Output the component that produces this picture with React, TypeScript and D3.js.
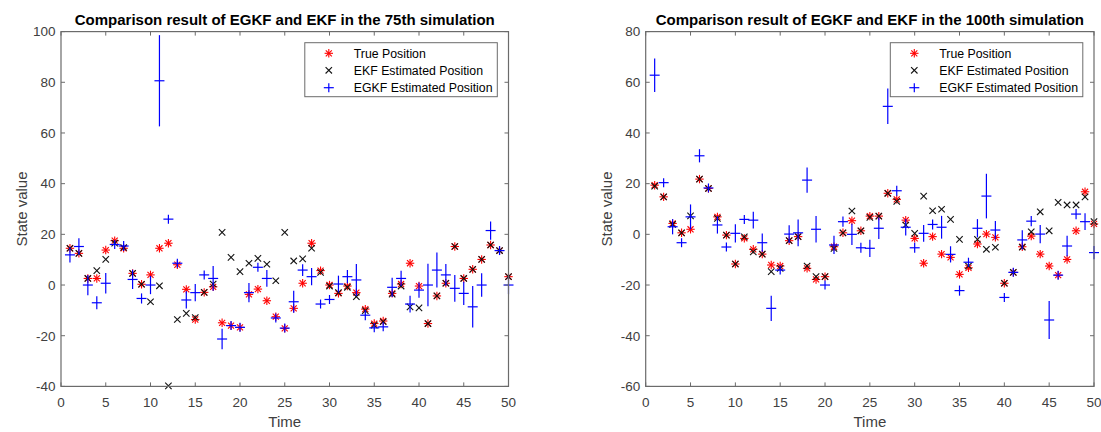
import React from "react";
import * as d3 from "d3";

const timeSteps = d3.range(1, 51);
const xTicks = [0, 5, 10, 15, 20, 25, 30, 35, 40, 45, 50];
const yTicks75 = [-40, -20, 0, 20, 40, 60, 80, 100];
const yTicks100 = [-60, -40, -20, 0, 20, 40, 60, 80];
const legendLabels = ["True Position", "EKF Estimated Position", "EGKF Estimated Position"];
const titles = [
  "Comparison result of EGKF and EKF in the 75th simulation",
  "Comparison result of EGKF and EKF in the 100th simulation",
];

// 75th simulation
const true75 = [14.5, 12.5, 2.6, 2.6, 13.8, 17.5, 14.5, 4.6, 0.3, 4, 14.5, 16.5, 8, -1.7, -13.6, -2.9, -0.7, -14.9, -16, -16.7, -3.7, -1.6, -6.2, -12.5, -17.1, -9.2, 0.7, 16.5, 5.7, 0, -3.3, -0.4, -3, -9.5, -15.2, -14.2, -3.3, 0.4, 8.6, -0.4, -15.2, -4.3, 0.7, 15.2, 2.6, 6.2, 10.1, 15.8, 13.6, 3.3];
const ekf75 = [14.5, 12.5, 2.6, 5.7, 10.1, 16.5, 14.8, 4.6, 0.3, -6.6, -0.3, -39.8, -13.6, -11.2, -12.8, -2.9, 0.4, 20.8, 10.9, 5.3, 8.6, 10.5, 8.2, 1.7, 20.8, 9.5, 10.3, 14.5, 5, -0.4, -3, -0.9, -4.6, -10.1, -15.8, -14.5, -3.6, -0.4, -8.6, -9, -15.2, -4.3, 0.7, 15.2, 2.6, 6.2, 10.1, 15.8, 13.6, 3.3];
const egkf75 = [11.9, 15.2, 0, -7, 0.7, 16, 15.4, 2.2, -5.3, 0, 80.6, 26, 8.6, -5.9, -3, 4, 2.6, -21.3, -16, -16.7, -3, 7, 2.6, -13, -17, -6.6, 5.9, 3.3, -7.5, -5.7, 0.4, 3.3, 2, -11.9, -16.9, -16.5, -0.9, 2.6, -7.5, -2, 0, 5.9, 4, -1.3, -3.3, -8.6, 0, 21.5, 13.6, 0];
const egkfErr75 = [3, 3.3, 4, 2.6, 4, 1.5, 2, 3.8, 2, 3.6, 18, 1.5, 1.5, 3.4, 3.4, 1.5, 4.9, 4, 1.5, 1.5, 3.8, 1.5, 3.3, 1.5, 1.5, 4.3, 2.3, 3.4, 1.5, 1.5, 3.3, 2.6, 6.3, 2, 1.5, 1.5, 3.8, 3, 3.3, 3, 8.4, 6.9, 4.3, 5.3, 4.6, 8.2, 4.6, 3.6, 1.5, 3.6];

// 100th simulation
const true100 = [19.4, 14.8, 4.3, 0.6, 2, 21.8, 18.1, 6.9, -0.3, -11.7, -1.6, -5.9, -7.8, -12.1, -12.5, -2.5, -0.9, -13.4, -17.8, -16.7, -4.9, 0.6, 5.4, 1.4, 7.2, 7.2, 16.2, 13.8, 5.6, -1.6, -11.4, -0.9, -7.8, -9.1, -15.8, -13.2, -3.8, 0.1, -1.2, -19.3, -15, -4.9, -0.7, -7.8, -12.5, -16.1, -9.9, 1.4, 16.8, 4.1];
const ekf100 = [19, 14.8, 3.9, 0.6, 7.3, 21.8, 18.1, 6.3, -0.3, -11.7, -1, -6.9, -7.8, -14.7, -13.4, -2.5, -0.9, -12.5, -16.7, -16.7, -5.6, 0.6, 9.2, 1.4, 6.7, 7.2, 16.2, 13, 3.7, 0.4, 15.1, 9.3, 9.9, 5.9, -2, -12.5, -2, -5.9, -5.1, -19.3, -15, -5.1, 1, 8.9, 1.4, 12.6, 11.6, 11.6, 14.8, 5];
const egkf100 = [62.8, 20.4, 3, -3.3, 6.9, 31, 18.3, 3.7, -5, 0.4, 5.9, 5.6, -3.3, -29.2, -14.1, 0.1, 0.6, 21.4, 2, -20, -4.2, 5, 0, -5.3, -5.5, 2.4, 50.5, 17.2, 2.8, -5.3, 0.4, 3.9, 2.8, -7.9, -22.2, -11, 2.4, 15.1, 1.7, -24.9, -15, -2.2, 5.2, 0.1, -33.8, -16.1, -4.6, 8, 5, -7.2];
const egkfErr100 = [6.6, 1.2, 3, 1.5, 4.9, 2.6, 1.5, 3.4, 1.5, 3.6, 1.5, 3.3, 3.6, 5, 1.5, 3.5, 5.3, 5, 5.2, 1.5, 3.6, 2, 4.2, 2, 3.4, 4.2, 7, 2, 3.3, 2, 3.3, 2, 4.5, 3.2, 2, 1.5, 3.6, 8.8, 3.6, 1.5, 1.5, 3.8, 2, 3.6, 7.5, 1.5, 4, 2, 3.3, 2.6];

const FONT = "'Liberation Sans', Arial, Helvetica, sans-serif";
const AXIS_COLOR = "#6b6b6b";
const TEXT_COLOR = "#404040";

function Asterisk({ x, y, r = 4.2 }: { x: number; y: number; r?: number }) {
  const d = r * 0.72;
  return (
    <g stroke="#ff0000" strokeWidth={1.1}>
      <line x1={x - r} y1={y} x2={x + r} y2={y} />
      <line x1={x} y1={y - r} x2={x} y2={y + r} />
      <line x1={x - d} y1={y - d} x2={x + d} y2={y + d} />
      <line x1={x - d} y1={y + d} x2={x + d} y2={y - d} />
    </g>
  );
}

function Cross({ x, y, r = 3.2 }: { x: number; y: number; r?: number }) {
  return (
    <g stroke="#111" strokeWidth={1.1}>
      <line x1={x - r} y1={y - r} x2={x + r} y2={y + r} />
      <line x1={x - r} y1={y + r} x2={x + r} y2={y - r} />
    </g>
  );
}

function Plus({ x, yTop, yMid, yBot }: { x: number; yTop: number; yMid: number; yBot: number }) {
  const t = Math.min(yTop, yMid - 4.5);
  const b = Math.max(yBot, yMid + 4.5);
  return (
    <g stroke="#0000ff" strokeWidth={1.2}>
      <line x1={x - 5} y1={yMid} x2={x + 5} y2={yMid} />
      <line x1={x} y1={t} x2={x} y2={b} />
    </g>
  );
}

type PanelProps = {
  left: number;
  right: number;
  yDomain: [number, number];
  yTicks: number[];
  title: string;
  trueV: number[];
  ekfV: number[];
  egkfV: number[];
  errV: number[];
};

function Panel({ left, right, yDomain, yTicks, title, trueV, ekfV, egkfV, errV }: PanelProps) {
  const top = 31.6;
  const bottom = 386.4;
  const x = d3.scaleLinear().domain([0, 50]).range([left, right]);
  const y = d3.scaleLinear().domain(yDomain).range([bottom, top]);
  const cx = (left + right) / 2;
  const cy = (top + bottom) / 2;
  const tl = 4;
  const legW = 192.5;
  const legL = right - 11.2 - legW;
  const legT = 42.7;
  const legH = 54;
  const rows = [53.3, 70.3, 87.7];
  return (
    <g>
      {timeSteps.map((t, i) => (
        <Asterisk key={"t" + i} x={x(t)} y={y(trueV[i])} />
      ))}
      {timeSteps.map((t, i) => (
        <Cross key={"e" + i} x={x(t)} y={y(ekfV[i])} />
      ))}
      {timeSteps.map((t, i) => (
        <Plus key={"g" + i} x={x(t)} yMid={y(egkfV[i])} yTop={y(egkfV[i] + errV[i])} yBot={y(egkfV[i] - errV[i])} />
      ))}
      <rect x={left} y={top} width={right - left} height={bottom - top} fill="none" stroke={AXIS_COLOR} strokeWidth={1.2} />
      {xTicks.map((v) => (
        <g key={"xt" + v}>
          <line x1={x(v)} x2={x(v)} y1={bottom} y2={bottom - tl} stroke={AXIS_COLOR} />
          <line x1={x(v)} x2={x(v)} y1={top} y2={top + tl} stroke={AXIS_COLOR} />
          <text x={x(v)} y={406.5} textAnchor="middle" fontSize={13.5} fill={TEXT_COLOR} fontFamily={FONT}>
            {v}
          </text>
        </g>
      ))}
      {yTicks.map((v) => (
        <g key={"yt" + v}>
          <line x1={left} x2={left + tl} y1={y(v)} y2={y(v)} stroke={AXIS_COLOR} />
          <line x1={right} x2={right - tl} y1={y(v)} y2={y(v)} stroke={AXIS_COLOR} />
          <text x={left - 5.5} y={y(v) + 4.8} textAnchor="end" fontSize={13.5} fill={TEXT_COLOR} fontFamily={FONT}>
            {v}
          </text>
        </g>
      ))}
      <text x={cx} y={25} textAnchor="middle" fontSize={15} fontWeight="bold" fill="#000" fontFamily={FONT}>
        {title}
      </text>
      <text x={cx} y={427.3} textAnchor="middle" fontSize={15} fill={TEXT_COLOR} fontFamily={FONT}>
        Time
      </text>
      <text
        transform={`translate(${left - 33.8},${cy}) rotate(-90)`}
        textAnchor="middle"
        fontSize={15}
        fill={TEXT_COLOR}
        fontFamily={FONT}
      >
        State value
      </text>
      <rect x={legL} y={legT} width={legW} height={legH} fill="#fff" stroke={AXIS_COLOR} strokeWidth={1} />
      <Asterisk x={legL + 24} y={rows[0]} />
      <Cross x={legL + 24} y={rows[1]} />
      <Plus x={legL + 24} yMid={rows[2]} yTop={rows[2] - 4.5} yBot={rows[2] + 4.5} />
      {legendLabels.map((lab, i) => (
        <text key={lab} x={legL + 49} y={rows[i] + 4.4} fontSize={12.3} fill="#000" fontFamily={FONT}>
          {lab}
        </text>
      ))}
    </g>
  );
}

export default function App() {
  return (
    <svg width={1101} height={432} style={{ position: "absolute", left: 0, top: 0, background: "#fff" }}>
      <rect width={1101} height={432} fill="#fff" />
      <Panel left={61} right={508.5} yDomain={[-40, 100]} yTicks={yTicks75} title={titles[0]} trueV={true75} ekfV={ekf75} egkfV={egkf75} errV={egkfErr75} />
      <Panel left={645.7} right={1094} yDomain={[-60, 80]} yTicks={yTicks100} title={titles[1]} trueV={true100} ekfV={ekf100} egkfV={egkf100} errV={egkfErr100} />
    </svg>
  );
}
